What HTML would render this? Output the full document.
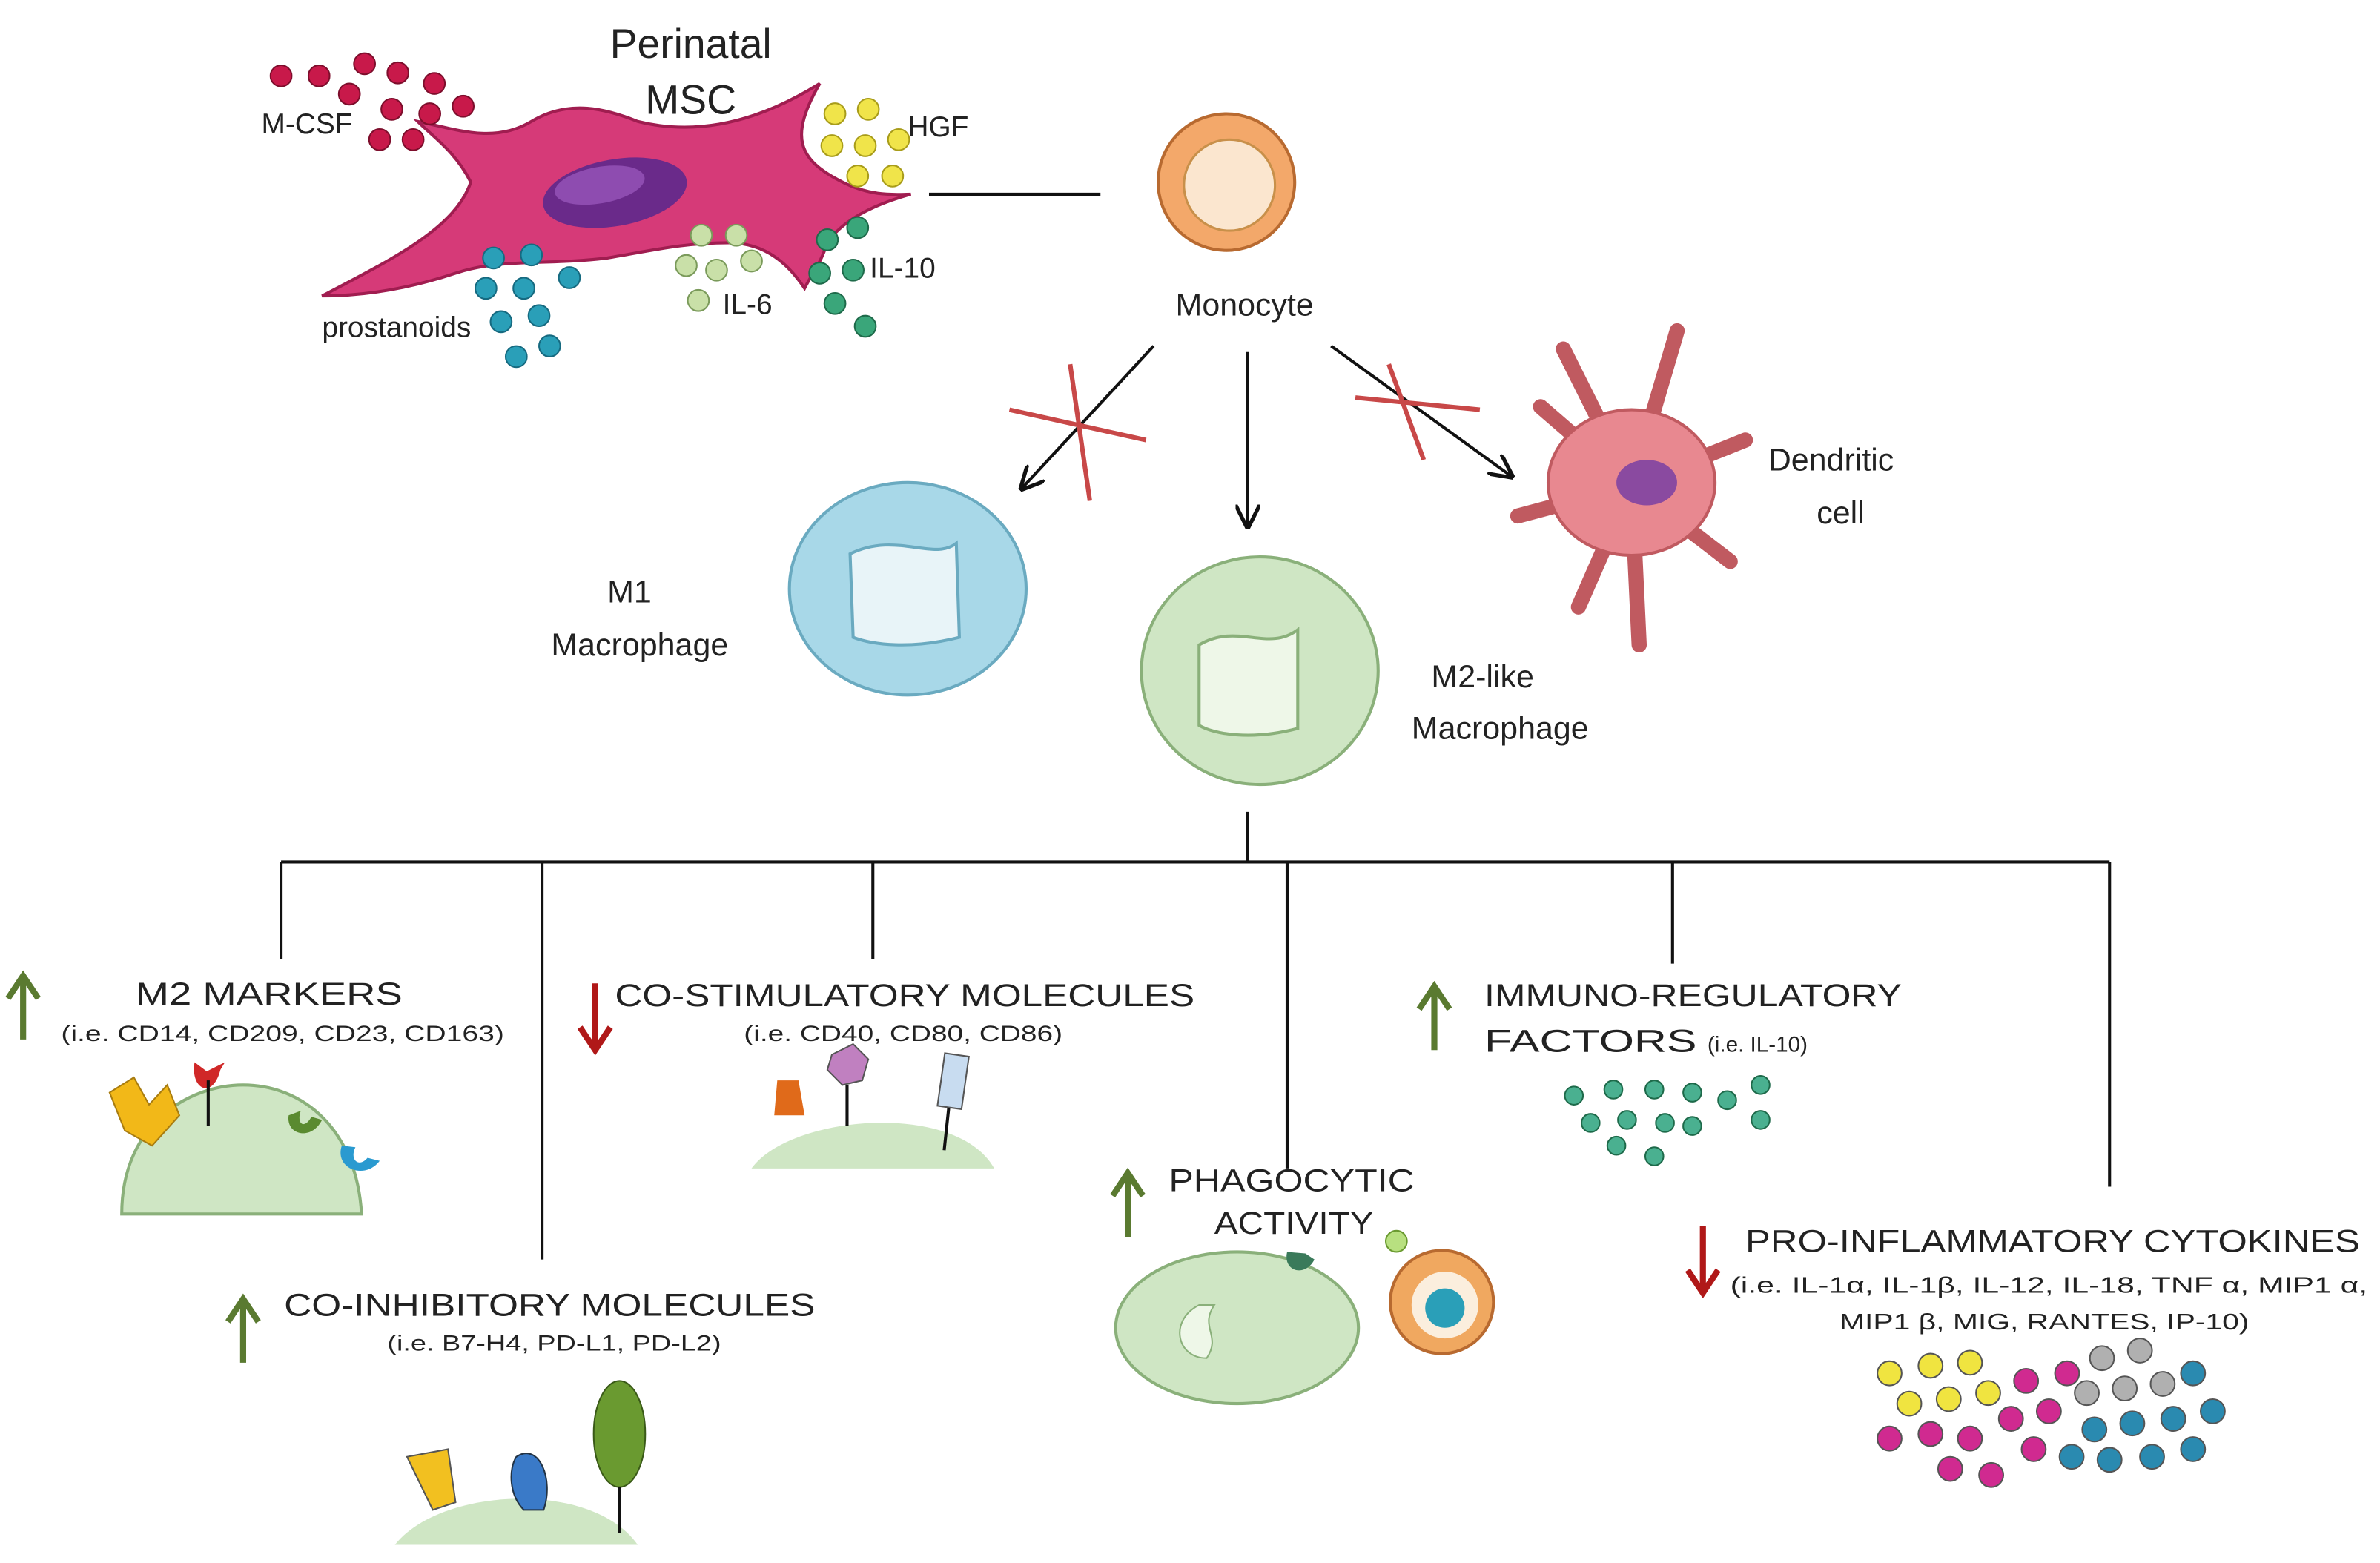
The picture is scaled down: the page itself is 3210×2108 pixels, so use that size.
<!DOCTYPE html>
<html><head><meta charset="utf-8"><style>
html,body{margin:0;padding:0;background:#fff;}
svg{display:block;}
text{font-family:"Liberation Sans",Arial,sans-serif;fill:#222;}
</style></head><body>
<svg width="3210" height="2108" viewBox="0 0 1568 1030" xmlns="http://www.w3.org/2000/svg">
<defs>
<marker id="ah" viewBox="0 0 10 10" refX="9" refY="5" markerWidth="8" markerHeight="8" orient="auto"><path d="M0,0 L10,5 L0,10" fill="none" stroke="#111" stroke-width="1.6"/></marker>
</defs>
<rect width="1568" height="1030" fill="#fff"/>

<!-- MSC -->
<path d="M212,195 C260,170 300,150 310,120 C300,100 285,90 275,80 C300,85 325,95 350,80 C375,65 400,72 420,80 C460,90 500,80 540,55 C520,90 525,105 555,120 C575,130 590,128 600,128 C575,135 555,145 545,160 C540,175 535,180 530,190 C520,175 505,160 480,160 C450,160 430,165 400,170 C360,175 330,170 300,180 C270,190 240,195 212,195 Z" fill="#d63a78" stroke="#a01d50" stroke-width="2"/>
<ellipse cx="405" cy="127" rx="48" ry="22" fill="#6a2a8a" transform="rotate(-10 405 127)"/>
<ellipse cx="395" cy="122" rx="30" ry="12" fill="#8e4cb0" transform="rotate(-10 395 122)"/>
<g fill="#c8194a" stroke="#7d0e2c" stroke-width="1">
<circle cx="185" cy="50" r="7"/><circle cx="210" cy="50" r="7"/><circle cx="240" cy="42" r="7"/><circle cx="262" cy="48" r="7"/><circle cx="286" cy="55" r="7"/>
<circle cx="230" cy="62" r="7"/><circle cx="258" cy="72" r="7"/><circle cx="283" cy="75" r="7"/><circle cx="305" cy="70" r="7"/><circle cx="250" cy="92" r="7"/><circle cx="272" cy="92" r="7"/>
</g>
<g fill="#f0e44a" stroke="#a89c1a" stroke-width="1">
<circle cx="550" cy="75" r="7"/><circle cx="572" cy="72" r="7"/><circle cx="548" cy="96" r="7"/><circle cx="570" cy="96" r="7"/><circle cx="592" cy="92" r="7"/><circle cx="565" cy="116" r="7"/><circle cx="588" cy="116" r="7"/>
</g>
<g fill="#2a9fb8" stroke="#166a80" stroke-width="1">
<circle cx="325" cy="170" r="7"/><circle cx="350" cy="168" r="7"/><circle cx="375" cy="183" r="7"/><circle cx="320" cy="190" r="7"/><circle cx="345" cy="190" r="7"/><circle cx="330" cy="212" r="7"/><circle cx="355" cy="208" r="7"/><circle cx="340" cy="235" r="7"/><circle cx="362" cy="228" r="7"/>
</g>
<g fill="#c9e0a8" stroke="#7a9a5a" stroke-width="1">
<circle cx="462" cy="155" r="7"/><circle cx="485" cy="155" r="7"/><circle cx="452" cy="175" r="7"/><circle cx="472" cy="178" r="7"/><circle cx="495" cy="172" r="7"/><circle cx="460" cy="198" r="7"/>
</g>
<g fill="#3aa67a" stroke="#1e6a4a" stroke-width="1">
<circle cx="545" cy="158" r="7"/><circle cx="565" cy="150" r="7"/><circle cx="540" cy="180" r="7"/><circle cx="562" cy="178" r="7"/><circle cx="550" cy="200" r="7"/><circle cx="570" cy="215" r="7"/>
</g>
<text x="455" y="38" font-size="27" text-anchor="middle">Perinatal</text>
<text x="455" y="75" font-size="27" text-anchor="middle">MSC</text>
<text x="172" y="88" font-size="19">M-CSF</text>
<text x="598" y="90" font-size="19">HGF</text>
<text x="212" y="222" font-size="19">prostanoids</text>
<text x="476" y="207" font-size="19">IL-6</text>
<text x="573" y="183" font-size="19">IL-10</text>

<line x1="612" y1="128" x2="725" y2="128" stroke="#111" stroke-width="2"/>

<!-- Monocyte -->
<circle cx="808" cy="120" r="45" fill="#f3a86a" stroke="#b86a30" stroke-width="2"/>
<circle cx="810" cy="122" r="30" fill="#fbe6cf" stroke="#c8904a" stroke-width="1.5"/>
<text x="820" y="208" font-size="21" text-anchor="middle">Monocyte</text>

<!-- arrows -->
<line x1="760" y1="228" x2="673" y2="322" stroke="#111" stroke-width="2" marker-end="url(#ah)"/>
<line x1="822" y1="232" x2="822" y2="347" stroke="#111" stroke-width="2" marker-end="url(#ah)"/>
<line x1="877" y1="228" x2="996" y2="314" stroke="#111" stroke-width="2" marker-end="url(#ah)"/>
<g stroke="#c84848" stroke-width="3">
<line x1="665" y1="270" x2="755" y2="290"/><line x1="705" y1="240" x2="718" y2="330"/>
<line x1="893" y1="262" x2="975" y2="270"/><line x1="915" y1="240" x2="938" y2="303"/>
</g>

<!-- M1 -->
<ellipse cx="598" cy="388" rx="78" ry="70" fill="#a8d8e8" stroke="#6aaac0" stroke-width="2"/>
<path d="M560,365 C590,350 615,370 630,358 L632,420 C600,428 575,425 562,420 Z" fill="#e8f4f8" stroke="#6aaac0" stroke-width="2"/>
<text x="400" y="397" font-size="21">M1</text>
<text x="363" y="432" font-size="21">Macrophage</text>

<!-- Dendritic -->
<g stroke="#c05a60" stroke-width="10" stroke-linecap="round" fill="none">
<path d="M1075,320 L1030,230"/><path d="M1075,320 L1105,218"/><path d="M1075,320 L1015,268"/><path d="M1075,320 L1000,340"/><path d="M1075,320 L1040,400"/><path d="M1075,320 L1080,425"/><path d="M1075,320 L1140,370"/><path d="M1075,320 L1150,290"/>
</g>
<ellipse cx="1075" cy="318" rx="55" ry="48" fill="#e88890" stroke="#c05a60" stroke-width="2"/>
<ellipse cx="1085" cy="318" rx="20" ry="15" fill="#8a4aa0"/>
<text x="1165" y="310" font-size="21">Dendritic</text>
<text x="1197" y="345" font-size="21">cell</text>

<!-- M2 -->
<ellipse cx="830" cy="442" rx="78" ry="75" fill="#cfe6c4" stroke="#8ab07a" stroke-width="2"/>
<path d="M790,425 C815,410 835,430 855,415 L855,480 C825,488 800,484 790,478 Z" fill="#eef7e8" stroke="#8ab07a" stroke-width="2"/>
<text x="943" y="453" font-size="21">M2-like</text>
<text x="930" y="487" font-size="21">Macrophage</text>

<!-- tree -->
<g stroke="#111" stroke-width="2">
<line x1="822" y1="535" x2="822" y2="568"/>
<line x1="185" y1="568" x2="1390" y2="568"/>
<line x1="185" y1="568" x2="185" y2="632"/>
<line x1="357" y1="568" x2="357" y2="830"/>
<line x1="575" y1="568" x2="575" y2="632"/>
<line x1="848" y1="568" x2="848" y2="770"/>
<line x1="1102" y1="568" x2="1102" y2="635"/>
<line x1="1390" y1="568" x2="1390" y2="782"/>
</g>

<!-- up/down arrows -->
<g stroke="#5a7a30" stroke-width="4" fill="none">
<path d="M15,685 L15,645 M5,658 L15,643 L25,658"/>
<path d="M160,898 L160,858 M150,871 L160,856 L170,871"/>
<path d="M743,815 L743,775 M733,788 L743,773 L753,788"/>
<path d="M945,692 L945,652 M935,665 L945,650 L955,665"/>
</g>
<g stroke="#b01818" stroke-width="4" fill="none">
<path d="M392,648 L392,690 M382,677 L392,692 L402,677"/>
<path d="M1122,808 L1122,850 M1112,837 L1122,852 L1132,837"/>
</g>

<text x="89" y="662" font-size="21" textLength="176" lengthAdjust="spacingAndGlyphs">M2 MARKERS</text>
<text x="40" y="686" font-size="14.5" textLength="292" lengthAdjust="spacingAndGlyphs">(i.e. CD14, CD209, CD23, CD163)</text>
<text x="405" y="663" font-size="21" textLength="382" lengthAdjust="spacingAndGlyphs">CO-STIMULATORY  MOLECULES</text>
<text x="490" y="686" font-size="14.5" textLength="210" lengthAdjust="spacingAndGlyphs">(i.e. CD40, CD80, CD86)</text>
<text x="187" y="867" font-size="21" textLength="350" lengthAdjust="spacingAndGlyphs">CO-INHIBITORY  MOLECULES</text>
<text x="255" y="890" font-size="14.5" textLength="220" lengthAdjust="spacingAndGlyphs">(i.e. B7-H4, PD-L1, PD-L2)</text>
<text x="978" y="663" font-size="21" textLength="275" lengthAdjust="spacingAndGlyphs">IMMUNO-REGULATORY</text>
<text x="978" y="693" font-size="21" textLength="140" lengthAdjust="spacingAndGlyphs">FACTORS</text>
<text x="1125" y="693" font-size="14.5">(i.e. IL-10)</text>
<text x="770" y="785" font-size="21" textLength="162" lengthAdjust="spacingAndGlyphs">PHAGOCYTIC</text>
<text x="800" y="813" font-size="21" textLength="105" lengthAdjust="spacingAndGlyphs">ACTIVITY</text>
<text x="1150" y="825" font-size="21" textLength="405" lengthAdjust="spacingAndGlyphs">PRO-INFLAMMATORY  CYTOKINES</text>
<text x="1140" y="852" font-size="15" textLength="420" lengthAdjust="spacingAndGlyphs">(i.e. IL-1α, IL-1β, IL-12, IL-18, TNF α, MIP1 α,</text>
<text x="1212" y="876" font-size="15" textLength="270" lengthAdjust="spacingAndGlyphs">MIP1 β, MIG, RANTES, IP-10)</text>

<!-- M2 markers illustration -->
<path d="M80,800 C80,740 125,715 160,715 C200,715 235,745 238,800 Z" fill="#cfe6c4" stroke="#8ab07a" stroke-width="2"/>
<path d="M72,720 L88,710 L98,728 L110,715 L118,735 L100,755 L82,745 Z" fill="#f2b818" stroke="#a87c10"/>
<path d="M128,700 C125,718 140,725 145,705 L148,700 L136,706 Z" fill="#d02828"/>
<path d="M137,712 L137,742" stroke="#111" stroke-width="2"/>
<path d="M190,735 C188,748 205,752 212,738 L205,736 C200,745 195,740 198,732 Z" fill="#5a8a30"/>
<path d="M225,755 C220,770 240,778 250,765 L242,763 C236,770 230,764 234,756 Z" fill="#2a9ad0"/>

<!-- costim illustration -->
<path d="M495,770 C520,735 630,725 655,770 Z" fill="#cfe6c4"/>
<path d="M512,712 L526,712 L530,735 L510,735 Z" fill="#e06a1a"/>
<path d="M548,695 L562,688 L572,698 L568,712 L555,715 L545,705 Z" fill="#c080c0" stroke="#555"/>
<path d="M558,715 L558,742" stroke="#111" stroke-width="2"/>
<rect x="620" y="695" width="16" height="35" fill="#c8dcf0" stroke="#555" transform="rotate(8 628 712)"/>
<path d="M625,730 L622,758" stroke="#111" stroke-width="2"/>

<!-- coinhib illustration -->
<path d="M260,1018 C290,980 390,975 420,1018 Z" fill="#cfe6c4"/>
<path d="M268,960 L295,955 L300,990 L285,995 Z" fill="#f2c020" stroke="#555"/>
<path d="M340,960 C355,950 365,975 358,995 L345,995 C335,985 335,968 340,960 Z" fill="#3a7ac8" stroke="#234"/>
<ellipse cx="408" cy="945" rx="17" ry="35" fill="#6a9a30" stroke="#3a5a18"/>
<path d="M408,980 L408,1010" stroke="#111" stroke-width="2"/>

<!-- phago -->
<ellipse cx="815" cy="875" rx="80" ry="50" fill="#cfe6c4" stroke="#8ab07a" stroke-width="2"/>
<path d="M790,860 C770,870 775,895 795,895 C805,880 790,875 800,860 Z" fill="#eef7e8" stroke="#8ab07a"/>
<path d="M848,825 C845,838 860,842 866,830 L860,826 Z" fill="#3a7a5a"/>
<circle cx="920" cy="818" r="7" fill="#b8e080" stroke="#6a9a30"/>
<circle cx="950" cy="858" r="34" fill="#f0a860" stroke="#b86a30" stroke-width="2"/>
<circle cx="952" cy="860" r="22" fill="#fbeedd"/>
<circle cx="952" cy="862" r="13" fill="#2a9fb8"/>

<!-- IL-10 dots -->
<g fill="#4ab090" stroke="#1e6a4a" stroke-width="1">
<circle cx="1037" cy="722" r="6"/><circle cx="1063" cy="718" r="6"/><circle cx="1090" cy="718" r="6"/><circle cx="1115" cy="720" r="6"/><circle cx="1138" cy="725" r="6"/><circle cx="1160" cy="715" r="6"/>
<circle cx="1048" cy="740" r="6"/><circle cx="1072" cy="738" r="6"/><circle cx="1097" cy="740" r="6"/><circle cx="1160" cy="738" r="6"/>
<circle cx="1065" cy="755" r="6"/><circle cx="1090" cy="762" r="6"/><circle cx="1115" cy="742" r="6"/>
</g>

<!-- cytokines -->
<g stroke="#555" stroke-width="1">
<g fill="#f0e440"><circle cx="1245" cy="905" r="8"/><circle cx="1272" cy="900" r="8"/><circle cx="1298" cy="898" r="8"/><circle cx="1258" cy="925" r="8"/><circle cx="1284" cy="922" r="8"/><circle cx="1310" cy="918" r="8"/></g>
<g fill="#d02a90"><circle cx="1335" cy="910" r="8"/><circle cx="1362" cy="905" r="8"/><circle cx="1245" cy="948" r="8"/><circle cx="1272" cy="945" r="8"/><circle cx="1298" cy="948" r="8"/><circle cx="1325" cy="935" r="8"/><circle cx="1350" cy="930" r="8"/><circle cx="1285" cy="968" r="8"/><circle cx="1312" cy="972" r="8"/><circle cx="1340" cy="955" r="8"/></g>
<g fill="#b0b0b0"><circle cx="1385" cy="895" r="8"/><circle cx="1410" cy="890" r="8"/><circle cx="1375" cy="918" r="8"/><circle cx="1400" cy="915" r="8"/><circle cx="1425" cy="912" r="8"/></g>
<g fill="#2a8ab0"><circle cx="1445" cy="905" r="8"/><circle cx="1380" cy="942" r="8"/><circle cx="1405" cy="938" r="8"/><circle cx="1432" cy="935" r="8"/><circle cx="1458" cy="930" r="8"/><circle cx="1390" cy="962" r="8"/><circle cx="1418" cy="960" r="8"/><circle cx="1445" cy="955" r="8"/><circle cx="1365" cy="960" r="8"/></g>
</g>
</svg>
</body></html>
